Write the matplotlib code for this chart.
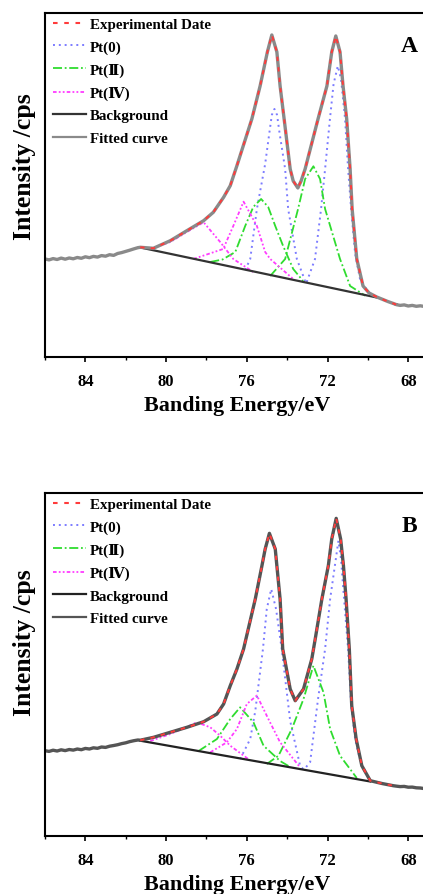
import matplotlib
matplotlib.use("Agg")
import matplotlib.pyplot as plt
from matplotlib.lines import Line2D
from matplotlib.ticker import MultipleLocator

plt.rcParams['font.family'] = ['Liberation Serif', 'DejaVu Serif', 'DejaVu Sans']
plt.rcParams['font.weight'] = 'bold'

# ---- panel A: Pt 4f spectrum (binding energy in eV, intensity in arb. units)
A_left_E = [86.0, 85.8, 85.6, 85.4, 85.2, 85.0, 84.8, 84.6, 84.4, 84.2, 84.0, 83.8,
            83.6, 83.4, 83.2, 83.0, 82.8, 82.6, 82.4, 82.2, 82.0, 81.8, 81.6, 81.4]
A_left_I = [98.0, 97.1, 98.4, 97.5, 98.9, 97.8, 99.0, 98.2, 99.5, 98.7, 100.2, 99.3,
            100.6, 99.9, 101.4, 100.8, 102.3, 101.6, 103.5, 104.4, 105.6, 106.8, 108.1, 109.3]
A_env_E = [81.28, 80.63, 79.79, 78.97, 78.14, 77.66, 77.15, 76.82, 76.49, 75.75, 75.34,
           74.98, 74.76, 74.51, 74.35, 74.15, 73.85, 73.70, 73.47, 73.31, 73.11, 72.47,
           72.03, 71.79, 71.59, 71.38, 71.23, 71.05, 70.88, 70.78, 70.55, 70.24, 69.94,
           69.56, 69.0, 68.6]
A_env_I = [109.7, 108.7, 116.3, 126.3, 136.3, 144.7, 159.7, 171.3, 191.3, 238, 271,
           305, 322, 305, 271, 238, 188, 176, 169, 176, 188, 238,
           271, 305, 321, 305, 271, 238, 188, 148, 98, 71, 64,
           60, 55.4, 52.5]
A_tail_E = [68.6, 68.4, 68.2, 68.0, 67.8, 67.6, 67.4, 67.2, 67.0]
A_tail_I = [52.4, 51.6, 52.1, 51.0, 51.6, 50.7, 51.2, 50.5, 50.9]
A_bg_E = [81.28, 69.56]
A_bg_I = [109.5, 59.5]

A_pt0_1_E = [76.08, 75.83, 75.50, 75.09, 74.89, 74.76, 74.63, 74.50, 74.37, 74.10, 73.95, 73.52, 73.11]
A_pt0_1_I = [87, 98, 148, 193, 223, 242, 248, 242, 223, 188, 148, 98, 76]
A_pt0_2_E = [73.03, 72.62, 72.32, 72.12, 71.88, 71.70, 71.49, 71.33, 71.13, 70.98, 70.83, 70.63, 70.39, 69.99, 69.56]
A_pt0_2_I = [75, 98, 148, 188, 238, 273, 291, 278, 238, 188, 148, 103, 78, 65, 59.5]
A_pt2_1_E = [77.81, 77.2, 76.57, 76.08, 75.68, 75.29, 74.94, 74.59, 74.20, 73.70, 73.21]
A_pt2_1_I = [95, 97.5, 105, 131, 150, 158, 150, 131, 111, 88, 76]
A_pt2_2_E = [74.84, 74.10, 73.46, 73.11, 72.70, 72.37, 72.12, 71.38, 70.88, 70.13]
A_pt2_2_I = [81, 98, 148, 178, 190.7, 178, 148, 98, 71, 61.3]
A_pt4_1_E = [78.65, 77.17, 76.67, 76.16, 75.50, 75.09, 74.84, 73.70]
A_pt4_1_I = [98, 108, 131, 155.3, 131, 105, 98, 78]
A_pt4_2_E = [80.78, 79.79, 78.97, 78.14, 77.32, 76.67, 75.68]
A_pt4_2_I = [108, 115, 125, 134.7, 115, 98, 85]

# ---- panel B
B_left_E = A_left_E
B_left_I = [85.3, 84.6, 85.8, 85.0, 86.2, 85.4, 86.5, 85.9, 87.0, 86.3, 87.6, 87.0,
            88.2, 87.7, 89.0, 88.6, 89.8, 90.5, 91.3, 92.4, 93.2, 94.4, 95.3, 96.0]
B_env_E = [81.28, 80.62, 78.97, 78.14, 77.48, 77.15, 76.82, 76.49, 76.16, 75.58, 75.25,
           75.09, 74.88, 74.59, 74.51, 74.35, 74.22, 73.85, 73.60, 73.19, 72.78, 72.61,
           72.28, 71.96, 71.79, 71.57, 71.35, 71.21, 71.08, 70.92, 70.80, 70.58, 70.30,
           69.88, 69.3, 68.74]
B_env_I = [95.8, 98.7, 108.7, 114.3, 122, 132, 150.3, 167, 187, 237, 270.3,
           287, 302.7, 287, 270.3, 237, 187, 147, 135.3, 147, 177, 197,
           237, 270.3, 297, 317.7, 297, 270.3, 237, 187, 130.3, 97, 70.3,
           55.3, 52.5, 50.3]
B_tail_E = [68.6, 68.4, 68.2, 68.0, 67.8, 67.6, 67.4, 67.2, 67.0]
B_tail_I = [49.9, 49.4, 49.6, 48.8, 48.9, 48.2, 48.0, 47.4, 47.3]
B_bg_E = [81.28, 69.88]
B_bg_I = [95.3, 54.5]

B_pt0_1_E = [76.33, 75.83, 75.58, 75.20, 75.01, 74.79, 74.55, 74.27, 73.85, 73.36, 73.21]
B_pt0_1_I = [77, 97, 125, 187, 227, 247, 227, 187, 115, 70.3, 67]
B_pt0_2_E = [73.06, 72.86, 72.47, 72.12, 71.87, 71.46, 71.33, 71.18, 70.98, 70.83, 70.63, 70.33, 69.88]
B_pt0_2_I = [69, 74, 137, 187, 237, 295.3, 277, 237, 187, 131, 97, 71, 55]
B_pt2_1_E = [78.39, 77.48, 76.82, 76.33, 75.67, 75.17, 74.35, 73.85]
B_pt2_1_I = [85, 97, 117, 128.7, 113.7, 90.3, 75, 69]
B_pt2_2_E = [75.01, 74.43, 73.77, 73.19, 72.70, 72.20, 71.87, 71.38, 70.55]
B_pt2_2_I = [72, 80.3, 107, 137, 170.3, 143.7, 107, 80.3, 58]
B_pt4_1_E = [77.81, 76.99, 76.49, 76.00, 75.50, 74.93, 74.35, 73.36]
B_pt4_1_I = [83.7, 93.7, 107, 132, 140.5, 117, 93.7, 68.7]
B_pt4_2_E = [80.78, 79.79, 78.97, 78.48, 77.81, 77.32, 76.82, 75.93]
B_pt4_2_I = [95, 102, 109, 113.7, 108.7, 100.3, 90.3, 77]

labels = ['Experimental Date', 'Pt(0)', 'Pt(\u2161)', 'Pt(\u2163)', 'Background', 'Fitted curve']

RED = '#ff3b3b'
BLUE = '#7c7cff'
GREEN = '#2fdc2f'
MAGENTA = '#ff3cff'
s_exp = (0, (2.2, 3.2))
s_pt0 = (0, (1, 2))
s_pt2 = (0, (5, 1.5, 1, 1.5))
s_pt4 = (0, (2, 1.2, 1, 1.2, 1, 1.2))


def panel(ax, letter, left, env, tail, bg, pt0, pt2, pt4, bg_col, fit_col, ymax, ylab_y):
    for E, I in pt0:
        ax.plot(E, I, color=BLUE, ls=s_pt0, lw=1.4)
    for E, I in pt2:
        ax.plot(E, I, color=GREEN, ls=s_pt2, lw=1.3)
    for E, I in pt4:
        ax.plot(E, I, color=MAGENTA, ls=s_pt4, lw=1.3)
    ax.plot(bg[0], bg[1], color=bg_col, lw=1.6)
    ax.plot(left[0] + env[0] + tail[0], left[1] + env[1] + tail[1], color=fit_col, lw=2.4)
    ax.plot(env[0], env[1], color=RED, ls=s_exp, lw=1.4)

    ax.set_xlim(86, 67)
    ax.set_ylim(0, ymax)
    ax.set_yticks([])
    ax.xaxis.set_major_locator(MultipleLocator(4))
    ax.xaxis.set_minor_locator(MultipleLocator(2))
    ax.tick_params(axis='x', which='major', direction='out', length=3.5, width=1.2,
                   pad=8, labelsize=12)
    ax.tick_params(axis='x', which='minor', direction='out', length=2.5, width=1.0)
    for s in ax.spines.values():
        s.set_linewidth(1.5)
    ax.set_xlabel('Banding Energy/eV', fontsize=15.8, fontweight='bold', labelpad=4)
    ax.set_ylabel('Intensity /cps', fontsize=18.5, fontweight='bold')
    ax.yaxis.set_label_coords(-0.024, ylab_y)
    ax.text(0.95, 0.905, letter, transform=ax.transAxes, fontsize=17,
            fontweight='bold', ha='center', va='center')

    handles = [Line2D([], [], color=RED, ls=s_exp, lw=1.5),
               Line2D([], [], color=BLUE, ls=s_pt0, lw=1.4),
               Line2D([], [], color=GREEN, ls=s_pt2, lw=1.3),
               Line2D([], [], color=MAGENTA, ls=s_pt4, lw=1.3),
               Line2D([], [], color=bg_col, lw=1.6),
               Line2D([], [], color=fit_col, lw=1.6)]
    ax.legend(handles, labels, loc='upper left', bbox_to_anchor=(0.01, 1.0),
              frameon=False, fontsize=10.8, handlelength=2.2, handletextpad=0.25,
              labelspacing=0.6, borderaxespad=0.2, borderpad=0.1)


fig = plt.figure(figsize=(4.23, 8.95), dpi=100)
axA = fig.add_axes([0.1064, 0.600, 0.9064, 0.3844])
axB = fig.add_axes([0.1064, 0.0648, 0.9064, 0.3832])

panel(axA, 'A', (A_left_E, A_left_I), (A_env_E, A_env_I), (A_tail_E, A_tail_I),
      (A_bg_E, A_bg_I),
      [(A_pt0_1_E, A_pt0_1_I), (A_pt0_2_E, A_pt0_2_I)],
      [(A_pt2_1_E, A_pt2_1_I), (A_pt2_2_E, A_pt2_2_I)],
      [(A_pt4_1_E, A_pt4_1_I), (A_pt4_2_E, A_pt4_2_I)],
      '#333333', '#8a8a8a', 344, 0.555)
panel(axB, 'B', (B_left_E, B_left_I), (B_env_E, B_env_I), (B_tail_E, B_tail_I),
      (B_bg_E, B_bg_I),
      [(B_pt0_1_E, B_pt0_1_I), (B_pt0_2_E, B_pt0_2_I)],
      [(B_pt2_1_E, B_pt2_1_I), (B_pt2_2_E, B_pt2_2_I)],
      [(B_pt4_1_E, B_pt4_1_I), (B_pt4_2_E, B_pt4_2_I)],
      '#222222', '#555555', 343, 0.568)

fig.savefig('out.png', dpi=100)
